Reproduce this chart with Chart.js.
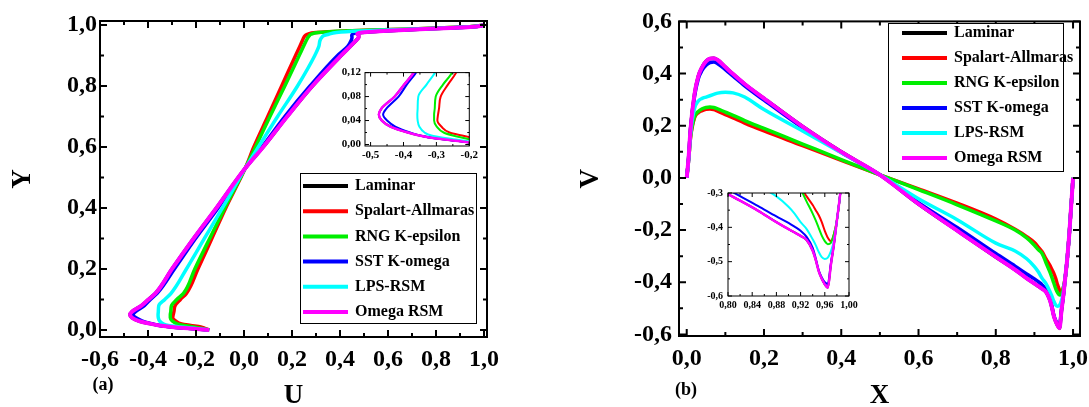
<!DOCTYPE html>
<html>
<head>
<meta charset="utf-8">
<script src="https://cdn.jsdelivr.net/npm/chart.js@4.4.1/dist/chart.umd.min.js"></script>
<style>
  html, body { margin: 0; padding: 0; background: #fff; overflow: hidden; }
  #wrap { position: relative; width: 1089px; height: 407px; overflow: hidden; background: #fff; }
  canvas { position: absolute; }
</style>
</head>
<body>
<div id="wrap">
  <canvas id="mainA" width="545" height="407" style="left:0;top:0"></canvas>
  <canvas id="mainB" width="560" height="407" style="left:545px;top:0"></canvas>
  <canvas id="insetA" width="156" height="104" style="left:325px;top:62px"></canvas>
  <canvas id="insetB" width="171" height="130" style="left:690px;top:182px"></canvas>
</div>
<script>
/* ===============================
   DATA
   =============================== */
const models = ["Laminar", "Spalart-Allmaras", "RNG K-epsilon", "SST K-omega", "LPS-RSM", "Omega RSM"];
const colors = ["#000000", "#ff0000", "#00ee00", "#0000ff", "#00ffff", "#ff00ff"];

// (a) U profile along Y
const yLevels = [0, 0.005, 0.01, 0.015, 0.02, 0.03, 0.04, 0.05, 0.06, 0.08, 0.10, 0.12, 0.2, 0.3, 0.4, 0.53, 0.6, 0.7, 0.8, 0.9, 0.93, 0.95, 0.96, 0.965, 0.97, 0.975, 0.98, 0.985, 0.99, 0.995, 1.0];
const laminarU = [-0.145, -0.222, -0.30, -0.352, -0.387, -0.44, -0.466, -0.475, -0.467, -0.427, -0.398, -0.369, -0.300, -0.210, -0.115, 0.005, 0.08, 0.18, 0.285, 0.405, 0.443, 0.468, 0.478, 0.478, 0.472, 0.49, 0.58, 0.71, 0.86, 0.97, 1.0];
const saU      = [-0.145, -0.163, -0.18, -0.222, -0.26, -0.285, -0.297, -0.295, -0.292, -0.287, -0.265, -0.24, -0.192, -0.134, -0.076, 0.005, 0.041, 0.099, 0.157, 0.215, 0.233, 0.244, 0.25, 0.255, 0.265, 0.30, 0.42, 0.62, 0.81, 0.95, 1.0];
const rngU     = [-0.145, -0.175, -0.21, -0.25, -0.278, -0.299, -0.307, -0.307, -0.305, -0.302, -0.28, -0.252, -0.205, -0.143, -0.08, 0.005, 0.048, 0.108, 0.17, 0.23, 0.248, 0.26, 0.267, 0.272, 0.28, 0.31, 0.42, 0.62, 0.81, 0.95, 1.0];
const sstU     = [-0.145, -0.222, -0.30, -0.35, -0.38, -0.425, -0.45, -0.462, -0.452, -0.415, -0.39, -0.362, -0.290, -0.202, -0.108, 0.005, 0.075, 0.17, 0.275, 0.39, 0.432, 0.447, 0.45, 0.449, 0.452, 0.48, 0.57, 0.70, 0.85, 0.97, 1.0];
const lpsU     = [-0.145, -0.2, -0.262, -0.315, -0.336, -0.352, -0.357, -0.358, -0.357, -0.355, -0.33, -0.304, -0.24, -0.165, -0.09, 0.005, 0.06, 0.14, 0.223, 0.295, 0.312, 0.317, 0.325, 0.332, 0.355, 0.385, 0.48, 0.66, 0.84, 0.96, 1.0];
const omegaU   = [-0.145, -0.222, -0.30, -0.352, -0.387, -0.44, -0.466, -0.475, -0.467, -0.427, -0.398, -0.369, -0.300, -0.210, -0.115, 0.005, 0.08, 0.18, 0.285, 0.405, 0.443, 0.468, 0.478, 0.478, 0.472, 0.49, 0.58, 0.71, 0.86, 0.97, 1.0];

// (b) V profile along X
const xLevels = [0, 0.005, 0.01, 0.02, 0.03, 0.04, 0.05, 0.06, 0.07, 0.08, 0.1, 0.12, 0.15, 0.2, 0.3, 0.4, 0.5, 0.6, 0.7, 0.8, 0.85, 0.88, 0.9, 0.91, 0.92, 0.93, 0.94, 0.945, 0.95, 0.955, 0.96, 0.965, 0.97, 0.975, 0.98, 0.985, 0.99, 0.995, 1.0];
const laminarV = [0, 0.08, 0.19, 0.32, 0.39, 0.425, 0.447, 0.457, 0.459, 0.452, 0.425, 0.398, 0.36, 0.305, 0.197, 0.1, 0.012, -0.1, -0.202, -0.303, -0.352, -0.385, -0.405, -0.415, -0.425, -0.437, -0.468, -0.495, -0.528, -0.55, -0.566, -0.576, -0.51, -0.45, -0.38, -0.31, -0.22, -0.11, 0];
const saV      = [0, 0.07, 0.155, 0.23, 0.25, 0.258, 0.263, 0.264, 0.262, 0.256, 0.243, 0.23, 0.21, 0.18, 0.124, 0.067, 0.012, -0.042, -0.097, -0.158, -0.197, -0.225, -0.248, -0.265, -0.283, -0.31, -0.335, -0.35, -0.365, -0.385, -0.41, -0.43, -0.44, -0.42, -0.38, -0.31, -0.22, -0.11, 0];
const rngV     = [0, 0.07, 0.16, 0.235, 0.255, 0.265, 0.27, 0.272, 0.27, 0.265, 0.252, 0.24, 0.22, 0.19, 0.13, 0.07, 0.012, -0.045, -0.103, -0.165, -0.2, -0.23, -0.258, -0.275, -0.29, -0.325, -0.36, -0.38, -0.402, -0.424, -0.44, -0.449, -0.445, -0.42, -0.38, -0.31, -0.22, -0.11, 0];
const sstV     = [0, 0.08, 0.19, 0.31, 0.38, 0.413, 0.432, 0.442, 0.444, 0.438, 0.415, 0.39, 0.353, 0.298, 0.192, 0.097, 0.012, -0.095, -0.19, -0.29, -0.338, -0.368, -0.387, -0.398, -0.41, -0.428, -0.46, -0.49, -0.525, -0.546, -0.56, -0.565, -0.505, -0.45, -0.38, -0.31, -0.22, -0.11, 0];
const lpsV     = [0, 0.07, 0.17, 0.265, 0.295, 0.305, 0.31, 0.315, 0.32, 0.325, 0.328, 0.326, 0.31, 0.262, 0.18, 0.097, 0.012, -0.08, -0.16, -0.25, -0.28, -0.31, -0.34, -0.36, -0.385, -0.405, -0.435, -0.452, -0.472, -0.487, -0.492, -0.488, -0.47, -0.44, -0.38, -0.31, -0.22, -0.11, 0];
const omegaV   = [0, 0.08, 0.19, 0.32, 0.39, 0.425, 0.447, 0.457, 0.459, 0.452, 0.425, 0.398, 0.36, 0.305, 0.197, 0.1, 0.012, -0.1, -0.202, -0.303, -0.352, -0.385, -0.405, -0.415, -0.425, -0.437, -0.468, -0.495, -0.528, -0.55, -0.566, -0.576, -0.51, -0.45, -0.38, -0.31, -0.22, -0.11, 0];

// ticks
const aTicksU = [-0.6, -0.4, -0.2, 0, 0.2, 0.4, 0.6, 0.8, 1.0];
const aLabelsU = ["-0,6", "-0,4", "-0,2", "0,0", "0,2", "0,4", "0,6", "0,8", "1,0"];
const aTicksY = [0, 0.2, 0.4, 0.6, 0.8, 1.0];
const aLabelsY = ["0,0", "0,2", "0,4", "0,6", "0,8", "1,0"];
const bTicksX = [0, 0.2, 0.4, 0.6, 0.8, 1.0];
const bLabelsX = ["0,0", "0,2", "0,4", "0,6", "0,8", "1,0"];
const bTicksV = [-0.6, -0.4, -0.2, 0, 0.2, 0.4, 0.6];
const bLabelsV = ["-0,6", "-0,4", "-0,2", "0,0", "0,2", "0,4", "0,6"];
const iaTicksU = [-0.5, -0.4, -0.3, -0.2];
const iaLabelsU = ["-0,5", "-0,4", "-0,3", "-0,2"];
const iaTicksY = [0, 0.04, 0.08, 0.12];
const iaLabelsY = ["0,00", "0,04", "0,08", "0,12"];
const ibTicksX = [0.80, 0.84, 0.88, 0.92, 0.96, 1.00];
const ibLabelsX = ["0,80", "0,84", "0,88", "0,92", "0,96", "1,00"];
const ibTicksV = [-0.6, -0.5, -0.4, -0.3];
const ibLabelsV = ["-0,6", "-0,5", "-0,4", "-0,3"];

const seriesU = [laminarU, saU, rngU, sstU, lpsU, omegaU];
const seriesV = [laminarV, saV, rngV, sstV, lpsV, omegaV];

Chart.defaults.font.family = '"Liberation Serif", "Times New Roman", serif';
Chart.defaults.font.weight = "bold";
Chart.defaults.color = "#000";

/* ===============================
   PLUGINS
   =============================== */
function tickMarks(scale) {
  const vals = scale.ticks.map(t => t.value);
  const out = [];
  vals.forEach((v, i) => {
    out.push([v, true]);
    if (i < vals.length - 1) out.push([(v + vals[i + 1]) / 2, false]);
  });
  return out;
}

const frameTicks = {
  id: "frameTicks",
  beforeDatasetsDraw(chart, args, o) {
    if (!o.fill) return;
    const a = chart.chartArea;
    chart.ctx.save();
    chart.ctx.fillStyle = "#fff";
    chart.ctx.fillRect(a.left, a.top, a.width, a.height);
    chart.ctx.restore();
  },
  afterDatasetsDraw(chart, args, o) {
    const { ctx, chartArea: a } = chart;
    const xs = chart.scales.x, ys = chart.scales.y;
    ctx.save();
    ctx.strokeStyle = "#000";
    ctx.lineWidth = o.tickWidth;
    ctx.beginPath();
    tickMarks(xs).forEach(([v, major]) => {
      const px = xs.getPixelForValue(v), len = major ? o.major : o.minor;
      ctx.moveTo(px, a.bottom); ctx.lineTo(px, a.bottom - len);
      ctx.moveTo(px, a.top); ctx.lineTo(px, a.top + len);
    });
    tickMarks(ys).forEach(([v, major]) => {
      const py = ys.getPixelForValue(v), len = major ? o.major : o.minor;
      ctx.moveTo(a.left, py); ctx.lineTo(a.left + len, py);
      ctx.moveTo(a.right, py); ctx.lineTo(a.right - len, py);
    });
    ctx.stroke();
    ctx.lineWidth = o.frameWidth;
    ctx.strokeRect(a.left, a.top, a.width, a.height);
    ctx.restore();
  }
};

const boxLegend = {
  id: "boxLegend",
  afterDraw(chart, args, o) {
    if (!o.box) return;
    const ctx = chart.ctx;
    const [x1, y1, x2, y2] = o.box;
    ctx.save();
    ctx.fillStyle = "#fff";
    ctx.fillRect(x1, y1, x2 - x1, y2 - y1);
    ctx.strokeStyle = "#000";
    ctx.lineWidth = 1;
    ctx.strokeRect(x1 + 0.5, y1 + 0.5, x2 - x1, y2 - y1);
    ctx.font = 'bold 16px "Liberation Serif", serif';
    ctx.textBaseline = "middle";
    chart.data.datasets.forEach((ds, i) => {
      const yy = o.rowTop + i * o.rowStep;
      ctx.strokeStyle = ds.borderColor;
      ctx.lineWidth = 4;
      ctx.beginPath();
      ctx.moveTo(o.lineFrom, yy);
      ctx.lineTo(o.lineTo, yy);
      ctx.stroke();
      ctx.fillStyle = "#000";
      ctx.fillText(ds.label, o.textX, yy);
    });
    if (o.tag) {
      ctx.font = 'bold 18px "Liberation Serif", serif';
      ctx.textAlign = "center";
      ctx.fillText(o.tag[0], o.tag[1], o.tag[2]);
    }
    ctx.restore();
  }
};

/* ===============================
   CHART BUILDER
   =============================== */
function axis(o) {
  return {
    type: "linear",
    min: o.min,
    max: o.max,
    afterFit: s => { if (s.isHorizontal()) s.height = o.size; else s.width = o.size; },
    afterBuildTicks: s => { s.ticks = o.ticks.map(v => ({ value: v })); },
    ticks: {
      callback: (v, i) => o.labels[i],
      padding: o.pad,
      autoSkip: false,
      maxRotation: 0,
      color: "#000",
      font: { size: o.font, weight: "bold" }
    },
    grid: { display: false, drawTicks: false },
    border: { display: false },
    title: o.title ? {
      display: true,
      text: o.title,
      color: "#000",
      font: { size: 27, weight: "bold" },
      padding: o.titlePad
    } : { display: false }
  };
}

function buildChart(id, o) {
  const datasets = models.map((name, i) => ({
    label: name,
    data: o.points(i),
    borderColor: colors[i],
    borderWidth: i === 5 ? o.lw + 0.5 : o.lw,
    pointRadius: 0,
    cubicInterpolationMode: "monotone",
    order: 6 - i,
    clip: o.clip
  }));

  return new Chart(document.getElementById(id), {
    type: "line",
    data: { datasets },
    options: {
      responsive: false,
      animation: false,
      indexAxis: o.indexAxis,
      layout: { padding: o.padding },
      plugins: {
        legend: { display: false },
        tooltip: { enabled: false },
        frameTicks: o.frame,
        boxLegend: o.legend || {}
      },
      scales: { x: axis(o.x), y: axis(o.y) }
    },
    plugins: [frameTicks, boxLegend]
  });
}

const pointsA = i => yLevels.map((yv, k) => ({ x: seriesU[i][k], y: yv }));
const pointsB = i => xLevels.map((xv, k) => ({ x: xv, y: seriesV[i][k] }));

/* ===============================
   PANEL (a)
   =============================== */
buildChart("mainA", {
  points: pointsA, indexAxis: "y", lw: 3.5, clip: undefined,
  padding: { left: 0, right: 58, top: 21, bottom: 0 },
  frame: { major: 7, minor: 4, tickWidth: 2, frameWidth: 2 },
  legend: { box: [300, 173, 476, 323], rowTop: 186, rowStep: 25.2, lineFrom: 303, lineTo: 348, textX: 355, tag: ["(a)", 103, 385] },
  x: { min: -0.6, max: 1.0125, size: 70, ticks: aTicksU, labels: aLabelsU, pad: 8, font: 24, title: "U", titlePad: { bottom: -5 } },
  y: { min: -0.023, max: 1.013, size: 100, ticks: aTicksY, labels: aLabelsY, pad: 3, font: 24, title: "Y", titlePad: { top: 7 } }
});

buildChart("insetA", {
  points: pointsA, indexAxis: "y", lw: 2, clip: 0,
  padding: { left: 0, right: 10, top: 9, bottom: 0 },
  frame: { major: 4, minor: 2, tickWidth: 1, frameWidth: 1, fill: true },
  x: { min: -0.517, max: -0.2, size: 20, ticks: iaTicksU, labels: iaLabelsU, pad: 3, font: 11 },
  y: { min: -0.0025, max: 0.12, size: 40, ticks: iaTicksY, labels: iaLabelsY, pad: 4, font: 11 }
});

/* ===============================
   PANEL (b)
   =============================== */
buildChart("mainB", {
  points: pointsB, indexAxis: "x", lw: 3.5, clip: undefined,
  padding: { left: 0, right: 25, top: 20, bottom: 0 },
  frame: { major: 7, minor: 4, tickWidth: 2, frameWidth: 2 },
  legend: { box: [343, 23, 518, 171], rowTop: 33, rowStep: 25, lineFrom: 357, lineTo: 402, textX: 409, tag: ["(b)", 141, 390] },
  x: { min: -0.02, max: 1.018, size: 71, ticks: bTicksX, labels: bLabelsX, pad: 8, font: 24, title: "X", titlePad: { bottom: -5 } },
  y: { min: -0.606, max: 0.6, size: 134, ticks: bTicksV, labels: bLabelsV, pad: 7, font: 24, title: "V", titlePad: { top: 30 } }
});

buildChart("insetB", {
  points: pointsB, indexAxis: "x", lw: 2, clip: 0,
  padding: { left: 0, right: 12, top: 8, bottom: 0 },
  frame: { major: 4, minor: 2, tickWidth: 1, frameWidth: 1, fill: true },
  x: { min: 0.8, max: 1.0, size: 16, ticks: ibTicksX, labels: ibLabelsX, pad: 3, font: 10 },
  y: { min: -0.6, max: -0.3, size: 38, ticks: ibTicksV, labels: ibLabelsV, pad: 5, font: 10 }
});
</script>
</body>
</html>
